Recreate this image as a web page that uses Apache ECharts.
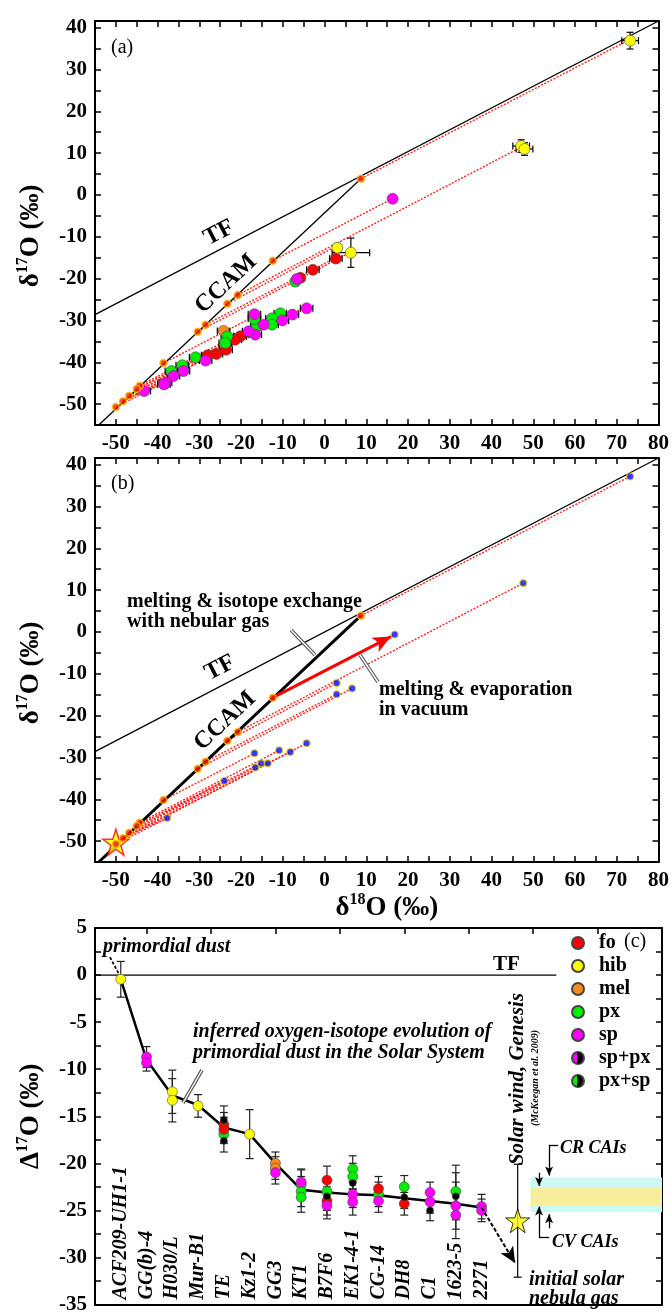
<!DOCTYPE html>
<html><head><meta charset="utf-8">
<script src="https://cdn.jsdelivr.net/npm/echarts@6/dist/echarts.min.js"></script>
<style>html,body{margin:0;padding:0;background:#fff}#c{width:672px;height:1315px}</style>
</head><body><div id="c"></div>
<script>
// ================= DATA =================
// Panels (a) and (b): δ18O vs δ17O
const tfLine = [[-55, -28.6], [80, 41.6]];
const ccamLine = [[-54.1, -55], [8.7, 3.9]];
// initial compositions on CCAM (red dots)
const ccamDots = [[8.7, 3.9], [-12.4, -15.7], [-20.8, -23.9], [-23.3, -26.0], [-28.5, -31.0], [-30.4, -32.7],
  [-38.6, -40.2], [-44.3, -45.6], [-45.0, -46.4], [-46.8, -48.0], [-48.3, -49.3], [-50.0, -50.7]];
// mean measured compositions (blue dots, panel b)
const meanDots = [[73.2, 37.2], [47.6, 11.7], [16.8, -0.6], [2.9, -12.2], [2.9, -14.9], [6.6, -13.5],
  [-4.3, -26.6], [-8.2, -28.7], [-10.9, -28.3], [-16.8, -29.0], [-16.6, -32.4], [-15.2, -31.4],
  [-13.6, -31.4], [-24.0, -35.6], [-37.7, -44.5]];
// mass-dependent fractionation lines [x0, y0, x1, y1]
const fractLines = [[8.7, 3.9, 73.2, 37.2], [-12.4, -15.7, 16.8, -0.6], [-20.8, -23.9, 47.6, 11.7],
  [-23.3, -26.0, 2.9, -12.2], [-28.5, -31.0, 2.9, -14.9], [-30.4, -32.7, 6.6, -13.5],
  [-48.3, -49.3, -4.3, -26.6], [-48.3, -49.3, -8.2, -28.7], [-44.3, -45.6, -10.9, -28.3],
  [-38.6, -40.2, -16.8, -29.0], [-46.8, -48.0, -16.6, -32.4], [-45.0, -46.4, -15.2, -31.4],
  [-48.3, -49.3, -13.6, -31.4], [-45.0, -46.4, -24.0, -35.6], [-46.8, -48.0, -24.0, -35.6],
  [-50.0, -50.7, -37.7, -44.5], [-47.5, -48.8, -37.7, -44.5]];
const evapArrow = [[-12.4, -15.7], [15.9, -1.1]];
const starB = [[-50, -50.3]];
// panel (a) measured minerals [δ18O, δ17O, errX, errY]
const foA = [[2.7, -15.2, 1.5, 0], [-2.8, -17.9, 1.5, 0], [-5.8, -19.8, 1, 0], [-20.2, -33.8, 1.5, 0],
  [-21.4, -34.6, 1.5, 0], [-23.6, -37.0, 1.5, 0], [-25.9, -38.0, 1.5, 0], [-28.0, -38.3, 1.5, 0]];
const hibA = [[73.2, 36.9, 2, 2], [47.1, 11.7, 2, 1.5], [47.9, 11.0, 2, 1.5], [3.05, -12.6, 1, 1], [6.3, -13.8, 4.5, 3.5]];
const melA = [[-24.2, -32.5, 1.5, 0]];
const pxA = [[-7.0, -20.7, 1, 1], [-10.6, -28.3, 1.5, 0], [-12.6, -29.5, 1.5, 0], [-12.6, -31.0, 1.5, 0],
  [-16.2, -31.4, 1.5, 0], [-16.8, -29.6, 1.5, 0], [-23.3, -33.8, 1.5, 0], [-23.8, -35.4, 1.5, 0],
  [-30.9, -38.8, 1.5, 0], [-34.1, -40.7, 1.5, 0], [-36.7, -42.1, 1.5, 0]];
const spA = [[16.3, -0.9, 0, 0], [-6.6, -20.1, 1, 1], [-4.3, -27.1, 1.5, 0], [-7.7, -28.6, 1.5, 0],
  [-10.1, -30.0, 1.5, 0], [-14.6, -31.0, 1.5, 0], [-16.8, -28.5, 1.5, 0], [-16.6, -33.4, 1.5, 0],
  [-18.2, -32.6, 1.5, 0], [-28.5, -39.6, 1.5, 0], [-33.8, -42.1, 1.5, 0], [-36.2, -43.3, 1.5, 0],
  [-38.1, -44.9, 1.5, 0], [-38.5, -45.3, 1.5, 0], [-43.2, -46.9, 1.5, 0]];

// Panel (c): Δ17O by sample
const samples = ['ACF209-UH1-1', 'GG(b)-4', 'H030/L', 'Mur-B1', 'TE', 'Kz1-2', 'GG3', 'KT1', 'B7F6',
  'EK1-4-1', 'CG-14', 'DH8', 'C1', '1623-5', '2271'];
const trend = [-0.45, -9.0, -12.8, -13.8, -16.2, -16.9, -20.0, -22.8, -23.1, -23.3, -23.4, -23.7, -24.0, -24.3, -24.7];
// [sample position, Δ17O, 2σ]
const foC = [[5, -15.9, 1.3], [5, -16.4, 1.3], [9, -21.8, 1.5], [9, -24.0, 1.5], [11, -22.7, 1.3], [12, -24.3, 1.2]];
const hibC = [[1, -0.45, 1.9], [3, -12.4, 2.3], [3, -13.3, 2.3], [4, -13.9, 1.2], [6, -16.9, 2.6]];
const melC = [[7, -20.0, 1.2], [7, -20.5, 1.2]];
const pxC = [[5, -16.9, 1.0], [8, -22.3, 1.6], [8, -23.0, 1.6], [8, -23.6, 1.6], [9, -23.0, 1.5], [10, -20.6, 1.4],
  [10, -21.4, 1.4], [11, -23.3, 1.3], [12, -22.5, 1.2], [14, -23.0, 2.8]];
const spC = [[2, -8.7, 1.1], [2, -9.3, 0.9], [7, -21.0, 1.2], [8, -22.0, 1.4], [9, -24.5, 1.4], [10, -23.3, 1.4],
  [10, -24.1, 1.4], [11, -24.0, 1.2], [13, -23.1, 1.1], [13, -24.1, 1.2], [14, -24.5, 2.5], [14, -25.5, 2.5],
  [15, -24.6, 1.3], [15, -25.0, 1.2]];
const mixC = [[5, -15.4, 1.5], [5, -17.6, 1.2], [9, -23.5, 1.5], [10, -22.1, 1.4], [12, -23.6, 1.2], [13, -25.0, 1.1], [14, -23.5, 2.5]];
const tfZero = [[0, 0], [17.9, 0]];
const dustPointer = [[0.58, 1.9], [0.97, -0.1]];
const nebulaArrow = [[15, -24.7], [16.3, -30.6]];
const solarWind = [[16.4, -26.1, 0, 6.0]];
const cyanBand = [-21.5, -25.2];
const yellowBand = [-22.6, -24.5];
const bandX = [16.9, 22];
const crArrows = [[[17.97, -18.04], [17.62, -18.04], 0], [[17.62, -18.04], [17.62, -21.3], 1], [[17.23, -21.0], [17.23, -22.4], 1]];
const cvArrows = [[[17.62, -27.9], [17.23, -27.9], 0], [[17.23, -27.9], [17.23, -24.6], 1], [[17.62, -26.9], [17.62, -25.4], 1]];

// ================= CHART =================
const FONT = '"Liberation Serif","Times New Roman",serif';
const C = { fo: '#ff0000', hib: '#ffff00', mel: '#f58a1f', px: '#00ee00', sp: '#ff00ff' };
const STAR = 'path://M12,0 L14.8,8.6 L23.8,8.6 L16.5,13.9 L19.3,22.5 L12,17.2 L4.7,22.5 L7.5,13.9 L0.2,8.6 L9.2,8.6 Z';

function valAxis(gi, pos, min, max, interval, showLabels, extra) {
  return Object.assign({
    type: 'value', gridIndex: gi, position: pos, min: min, max: max, interval: interval,
    axisLine: { show: true, onZero: false, lineStyle: { color: '#000', width: 2 } },
    axisTick: { show: true, inside: true, length: 6, lineStyle: { color: '#000', width: 1.5 } },
    splitLine: { show: false },
    axisLabel: showLabels ? {
      show: true, margin: 8, color: '#000', fontFamily: FONT, fontWeight: 'bold', fontSize: 21,
      formatter: function (v) { return (Math.abs(v % (interval * 2)) < 1e-9) ? String(v) : ''; }
    } : { show: false }
  }, extra || {});
}
function supName(pre, sup, post) {
  return {
    name: '{a|' + pre + '}{b|' + sup + '}{a|' + post + '}',
    nameTextStyle: {
      color: '#000',
      rich: {
        a: { fontFamily: FONT, fontWeight: 'bold', fontSize: 27, lineHeight: 30, verticalAlign: 'bottom', color: '#000' },
        b: { fontFamily: FONT, fontWeight: 'bold', fontSize: 16, lineHeight: 18, verticalAlign: 'top', color: '#000' }
      }
    }
  };
}
function errRender(color, lw, cap) {
  return function (params, api) {
    const x = api.value(0), y = api.value(1), ex = api.value(2), ey = api.value(3);
    const ch = [];
    const seg = function (a, b) {
      ch.push({ type: 'line', shape: { x1: a[0], y1: a[1], x2: b[0], y2: b[1] }, style: { stroke: color, lineWidth: lw } });
    };
    if (ex > 0) {
      const a = api.coord([x - ex, y]), b = api.coord([x + ex, y]);
      seg(a, b); seg([a[0], a[1] - cap], [a[0], a[1] + cap]); seg([b[0], b[1] - cap], [b[0], b[1] + cap]);
    }
    if (ey > 0) {
      const a = api.coord([x, y - ey]), b = api.coord([x, y + ey]);
      seg(a, b); seg([a[0] - cap, a[1]], [a[0] + cap, a[1]]); seg([b[0] - cap, b[1]], [b[0] + cap, b[1]]);
    }
    return { type: 'group', children: ch };
  };
}
function segRender(color, lw, dash) {
  return function (params, api) {
    const a = api.coord([api.value(0), api.value(1)]), b = api.coord([api.value(2), api.value(3)]);
    return { type: 'line', shape: { x1: a[0], y1: a[1], x2: b[0], y2: b[1] }, style: { stroke: color, lineWidth: lw, lineDash: dash } };
  };
}
function lineS(xi, yi, data, color, width, extra) {
  return Object.assign({ type: 'line', xAxisIndex: xi, yAxisIndex: yi, data: data, symbol: 'none', silent: true,
    lineStyle: { color: color, width: width }, z: 2 }, extra || {});
}
function scatterS(name, xi, yi, data, color, size, extra) {
  return Object.assign({ type: 'scatter', name: name, xAxisIndex: xi, yAxisIndex: yi, data: data, symbolSize: size,
    itemStyle: { color: color, borderColor: '#444', borderWidth: 0.6, opacity: 1 }, z: 4 }, extra || {});
}
function errS(xi, yi, data, color, cap) {
  return { type: 'custom', xAxisIndex: xi, yAxisIndex: yi, data: data, renderItem: errRender(color, 1.2, cap),
    encode: { x: 0, y: 1 }, silent: true, z: 3 };
}
function fractS(xi, yi) {
  return { type: 'custom', xAxisIndex: xi, yAxisIndex: yi, data: fractLines, renderItem: segRender('#ff2020', 1.4, [2, 1.5]),
    encode: { x: [0, 2], y: [1, 3] }, silent: true, z: 2 };
}
const ccamDotStyle = { color: '#ff1a00', borderColor: '#f2c200', borderWidth: 1.5 };
const toErrC = function (arr) { return arr.map(function (d) { return [d[0], d[1], 0, d[2]]; }); };

const series = [];
// ---- panel (a) ----
series.push(lineS(0, 0, tfLine, '#000', 1.3));
series.push(lineS(0, 0, ccamLine, '#000', 1.3));
series.push(fractS(0, 0));
[foA, hibA, melA, pxA, spA].forEach(function (arr) { series.push(errS(0, 0, arr, '#000', 3.5)); });
series.push(scatterS('fo', 0, 0, foA, C.fo, 11));
series.push(scatterS('mel', 0, 0, melA, C.mel, 11));
series.push(scatterS('px', 0, 0, pxA, C.px, 11));
series.push(scatterS('sp', 0, 0, spA, C.sp, 11));
series.push(scatterS('hib', 0, 0, hibA, C.hib, 11));
series.push({ type: 'scatter', xAxisIndex: 0, yAxisIndex: 0, data: ccamDots, symbolSize: 7, itemStyle: ccamDotStyle, z: 5, silent: true });
// ---- panel (b) ----
series.push(lineS(2, 2, tfLine, '#000', 1.3, {
  markLine: { silent: true, animation: false, symbol: ['none', 'arrow'], symbolSize: [12, 18], label: { show: false },
    lineStyle: { color: '#ff0000', width: 3, type: 'solid' },
    data: [[{ coord: evapArrow[0] }, { coord: evapArrow[1] }]] }
}));
series.push(lineS(2, 2, ccamLine, '#000', 3));
series.push(fractS(2, 2));
series.push({ type: 'scatter', xAxisIndex: 2, yAxisIndex: 2, data: starB, symbol: STAR, symbolSize: 26,
  itemStyle: { color: '#ffff00', borderColor: '#ff0000', borderWidth: 1.5 }, z: 4, silent: true });
series.push({ type: 'scatter', xAxisIndex: 2, yAxisIndex: 2, data: ccamDots, symbolSize: 7, itemStyle: ccamDotStyle, z: 5, silent: true });
series.push({ type: 'scatter', xAxisIndex: 2, yAxisIndex: 2, data: meanDots, symbolSize: 7,
  itemStyle: { color: '#0010ff', borderColor: '#f2d000', borderWidth: 1.2 }, z: 5, silent: true });
// ---- panel (c) ----
series.push(lineS(4, 4, [[bandX[0], cyanBand[0]]], '#000', 0, {
  z: 0,
  markArea: { silent: true, animation: false, data: [
    [{ coord: [bandX[0], cyanBand[0]], itemStyle: { color: '#cdf8f4' } }, { coord: [bandX[1], cyanBand[1]] }],
    [{ coord: [bandX[0], yellowBand[0]], itemStyle: { color: '#f6ee9c' } }, { coord: [bandX[1], yellowBand[1]] }]
  ] }
}));
const annLines = [];
crArrows.concat(cvArrows).forEach(function (a) {
  annLines.push([{ coord: a[0], symbol: 'none', lineStyle: { color: '#000', width: 1.3, type: 'solid' } },
    { coord: a[1], symbol: a[2] ? 'arrow' : 'none' }]);
});
annLines.push([{ coord: nebulaArrow[0], symbol: 'none', lineStyle: { color: '#000', width: 2, type: [4, 2] } },
  { coord: nebulaArrow[1], symbol: 'arrow', symbolSize: [11, 16] }]);
series.push(lineS(4, 4, tfZero, '#000', 1.3, {
  markLine: { silent: true, animation: false, symbolSize: [6, 9], label: { show: false }, data: annLines }
}));
series.push(lineS(4, 4, dustPointer, '#000', 1.8, { lineStyle: { color: '#000', width: 1.8, type: [3, 2] } }));
series.push(lineS(4, 4, trend.map(function (v, i) { return [i + 1, v]; }), '#000', 2.5));
[foC, hibC, melC, pxC, spC, mixC].forEach(function (arr) { series.push(errS(4, 4, toErrC(arr), '#222', 4)); });
series.push(errS(4, 4, solarWind, '#000', 4));
series.push(scatterS('px', 4, 4, pxC, C.px, 10));
series.push(scatterS('fo', 4, 4, foC, C.fo, 10));
series.push(scatterS('mel', 4, 4, melC, C.mel, 10));
series.push(scatterS('sp', 4, 4, spC, C.sp, 10));
series.push(scatterS('hib', 4, 4, hibC, C.hib, 10));
series.push(scatterS('', 4, 4, mixC, '#000', 7, { z: 5 }));
series.push(scatterS('sp+px', 4, 4, [], C.sp, 10));
series.push(scatterS('px+sp', 4, 4, [], C.px, 10));
series.push({ type: 'scatter', xAxisIndex: 4, yAxisIndex: 4, data: solarWind, symbol: STAR, symbolSize: 24,
  itemStyle: { color: '#ffff00', borderColor: '#000', borderWidth: 1 }, z: 6, silent: true });

const topCats = Array.from({ length: 45 }, function (_, i) { return String(i); });
const yNameA = supName('δ', '17', 'O (‰)');
const xNameB = supName('δ', '18', 'O (‰)');
const yNameC = supName('Δ', '17', 'O (‰)');

const option = {
  animation: false,
  backgroundColor: '#fff',
  grid: [
    { left: 95, top: 21, width: 566, height: 404 },
    { left: 95, top: 458, width: 566, height: 404 },
    { left: 95, top: 928, width: 567, height: 382 }
  ],
  xAxis: [
    valAxis(0, 'bottom', -55, 80, 5, true),
    valAxis(0, 'top', -55, 80, 5, false),
    valAxis(1, 'bottom', -55, 80, 5, true, {
      name: xNameB.name, nameLocation: 'middle', nameGap: 27,
      nameTextStyle: Object.assign({ padding: [0, 0, 0, 20] }, xNameB.nameTextStyle)
    }),
    valAxis(1, 'top', -55, 80, 5, false),
    {
      type: 'value', gridIndex: 2, position: 'bottom', min: 0, max: 22, interval: 1,
      axisLine: { show: true, onZero: false, lineStyle: { color: '#000', width: 2 } },
      axisTick: { show: false }, splitLine: { show: false },
      axisLabel: {
        show: true, inside: true, rotate: 90, margin: 5, color: '#000',
        fontFamily: FONT, fontWeight: 'bold', fontStyle: 'italic', fontSize: 20,
        formatter: function (v) { return samples[Math.round(v) - 1] || ''; }
      }
    },
    {
      type: 'category', gridIndex: 2, position: 'top', data: topCats, boundaryGap: false,
      axisLine: { show: true, onZero: false, lineStyle: { color: '#000', width: 2 } },
      axisTick: { show: true, inside: true, length: 6, lineStyle: { color: '#000', width: 1.5 },
        interval: function (i) { return i % 5 === 4; } },
      axisLabel: { show: false }, splitLine: { show: false }
    }
  ],
  yAxis: [
    valAxis(0, 'left', -55, 41.6, 5, true, {
      name: yNameA.name, nameLocation: 'middle', nameRotate: 90, nameGap: 50,
      nameTextStyle: Object.assign({ padding: [0, 26, 0, 0] }, yNameA.nameTextStyle)
    }),
    valAxis(0, 'right', -55, 41.6, 5, false),
    valAxis(1, 'left', -55, 41.6, 5, true, {
      name: yNameA.name, nameLocation: 'middle', nameRotate: 90, nameGap: 50,
      nameTextStyle: Object.assign({ padding: [0, 26, 0, 0] }, yNameA.nameTextStyle)
    }),
    valAxis(1, 'right', -55, 41.6, 5, false),
    valAxis(2, 'left', -35, 5, 2.5, true, {
      name: yNameC.name, nameLocation: 'middle', nameRotate: 90, nameGap: 50,
      nameTextStyle: yNameC.nameTextStyle
    }),
    valAxis(2, 'right', -35, 5, 2.5, false)
  ],
  legend: {
    orient: 'vertical', left: 566, top: 928, padding: 5, itemWidth: 20, itemHeight: 12, itemGap: 3, icon: 'circle',
    selectedMode: false, data: ['fo', 'hib', 'mel', 'px', 'sp', 'sp+px', 'px+sp'],
    textStyle: { fontFamily: FONT, fontWeight: 'bold', fontSize: 20, color: '#000', lineHeight: 20, padding: [0, 0, 0, 6] }
  },
  series: series
};

function T(x, y, s, font, opts) {
  opts = opts || {};
  return { type: 'text', x: x, y: y, rotation: opts.rot || 0, z: 100, silent: true,
    style: { text: s, fill: '#000', font: font, align: opts.align || 'left', verticalAlign: 'middle' } };
}
function pointer(x1, y1, x2, y2) {
  return [
    { type: 'line', z: 90, silent: true, shape: { x1: x1, y1: y1, x2: x2, y2: y2 }, style: { stroke: '#555', lineWidth: 3.6 } },
    { type: 'line', z: 91, silent: true, shape: { x1: x1, y1: y1, x2: x2, y2: y2 }, style: { stroke: '#fff', lineWidth: 1.4 } }
  ];
}
const B = 'bold 24px ' + FONT, BI = 'italic bold 20px ' + FONT, BT = 'bold 20px ' + FONT, N = '20px ' + FONT;
const rTF = Math.atan(0.52), rCC = Math.atan(0.94);
option.graphic = [
  T(111, 48, '(a)', N),
  T(219, 233, 'TF', B, { align: 'center', rot: rTF }),
  T(226, 284, 'CCAM', B, { align: 'center', rot: rCC }),
  T(111, 484, '(b)', N),
  T(220, 668, 'TF', B, { align: 'center', rot: rTF }),
  T(225, 721, 'CCAM', B, { align: 'center', rot: rCC }),
  T(127, 602, 'melting & isotope exchange', BT),
  T(127, 622, 'with nebular gas', BT),
  T(379, 690, 'melting & evaporation', BT),
  T(379, 710, 'in vacuum', BT),
  T(103, 947, 'primordial dust', BI),
  T(493, 965, 'TF', 'bold 21px ' + FONT),
  T(193, 1032, 'inferred oxygen-isotope evolution of', BI),
  T(193, 1053, 'primordial dust in the Solar System', BI),
  T(518, 1079, 'Solar wind, Genesis', 'italic bold 21px ' + FONT, { align: 'center', rot: Math.PI / 2 }),
  T(535, 1078, '(McKeegan et al. 2009)', 'italic bold 10px ' + FONT, { align: 'center', rot: Math.PI / 2 }),
  T(560, 1148, 'CR CAIs', 'italic bold 18px ' + FONT),
  T(552, 1242, 'CV CAIs', 'italic bold 18px ' + FONT),
  T(529, 1280, 'initial solar', BI),
  T(529, 1299, 'nebula gas', BI),
  T(624, 942, '(c)', N),
  { type: 'sector', z: 100, silent: true, shape: { cx: 577, cy: 1058, r: 6, startAngle: -Math.PI / 2, endAngle: Math.PI / 2 }, style: { fill: '#000' } },
  { type: 'sector', z: 100, silent: true, shape: { cx: 577, cy: 1081, r: 6, startAngle: -Math.PI / 2, endAngle: Math.PI / 2 }, style: { fill: '#000' } }
].concat(pointer(291, 630, 315, 655), pointer(360, 655, 378, 682), pointer(202, 1070, 183, 1103));

const chart = echarts.init(document.getElementById('c'), null, { renderer: 'canvas' });
chart.setOption(option);
</script>
</body></html>
